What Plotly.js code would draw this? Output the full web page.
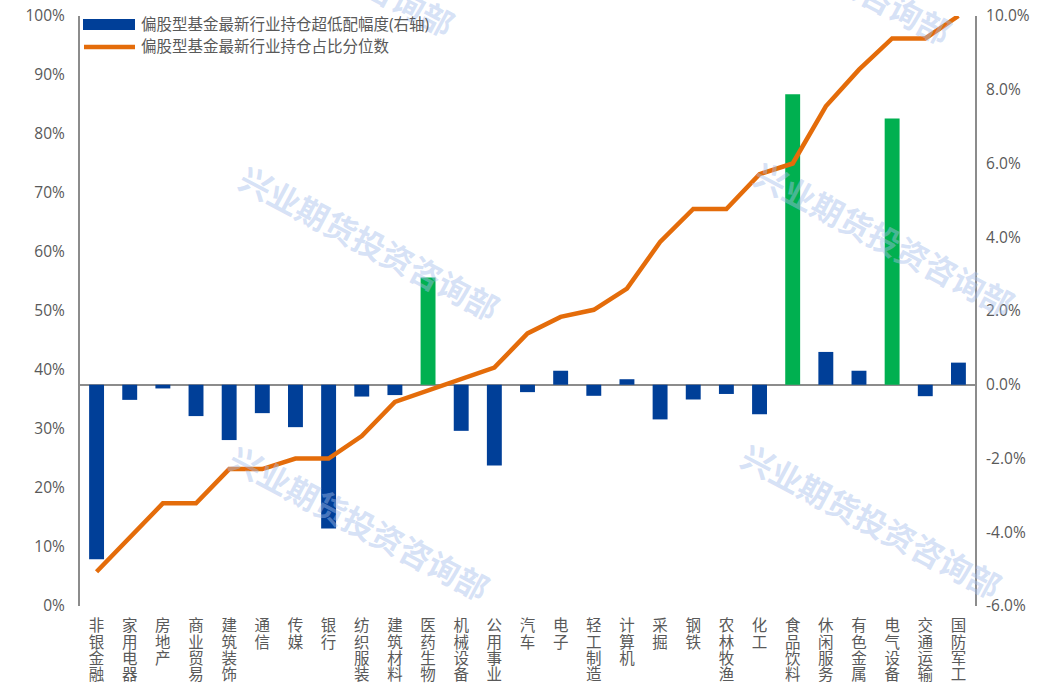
<!DOCTYPE html>
<html>
<head>
<meta charset="utf-8">
<script src="https://cdn.plot.ly/plotly-3.0.1.min.js"></script>
<style>
  html, body { margin: 0; padding: 0; background: #fff; }
  #chart { width: 1053px; height: 687px; }
</style>
</head>
<body>
<div id="chart"></div>
<script>
// industry categories, left to right
const categories = ['非银金融', '家用电器', '房地产', '商业贸易', '建筑装饰', '通信', '传媒', '银行', '纺织服装',
    '建筑材料', '医药生物', '机械设备', '公用事业', '汽车', '电子', '轻工制造', '计算机', '采掘', '钢铁',
    '农林牧渔', '化工', '食品饮料', '休闲服务', '有色金属', '电气设备', '交通运输', '国防军工'];
// over/under weight (%), right axis
const overweight = [-4.73, -0.41, -0.10, -0.85, -1.50, -0.77, -1.15, -3.90, -0.32, -0.28, 2.91, -1.25, -2.19,
    -0.20, 0.38, -0.30, 0.15, -0.94, -0.40, -0.25, -0.80, 7.88, 0.89, 0.38, 7.22, -0.31, 0.60];
// holding share percentile (%), left axis
const percentile = [5.8, 11.6, 17.4, 17.4, 23.2, 23.2, 25.0, 25.0, 28.8, 34.6, 36.6, 38.6, 40.4, 46.2, 49.0,
    50.2, 53.8, 61.7, 67.3, 67.3, 73.2, 75.0, 84.7, 90.9, 96.2, 96.2, 100];
// bars drawn in green
const highlighted = ['医药生物', '食品饮料', '电气设备'];

const leftTicks = [0, 10, 20, 30, 40, 50, 60, 70, 80, 90, 100];
const rightTicks = [-6, -4, -2, 0, 2, 4, 6, 8, 10];

const barName = '偏股型基金最新行业持仓超低配幅度(右轴)';
const lineName = '偏股型基金最新行业持仓占比分位数';

const BLUE = '#003f98';
const GREEN = '#00b050';
const ORANGE = '#e46c0a';
const GREY = '#595959';
const FONT = 'Open Sans, Noto Sans CJK SC, sans-serif';

// vertical labels: one character per line
const tickText = categories.map(c =>
    c.split('').map(ch => `<span style="font-size:15.5px">${ch}</span>`).join('<br>'));

const bars = {
    x: categories,
    y: overweight,
    type: 'bar',
    name: barName,
    yaxis: 'y',
    width: 0.45,
    marker: {color: categories.map(c => highlighted.includes(c) ? GREEN : BLUE)}
};

const line = {
    x: categories,
    y: percentile,
    type: 'scatter',
    mode: 'lines',
    name: lineName,
    yaxis: 'y2',
    line: {color: ORANGE, width: 4.5}
};

// pixel -> paper helpers for the plot area (80..975, 16..606)
const px = (x) => (x - 80) / 895;
const py = (y) => (606 - y) / 590;

// watermark
const marks = [[370, 242], [360, 522], [885, 238], [872, 520], [325, -42], [822, -34]].map(([x, y]) => ({
    text: '<b>兴业期货投资咨询部</b>',
    xref: 'paper', yref: 'paper',
    x: px(x), y: py(y),
    xanchor: 'center', yanchor: 'middle',
    showarrow: false,
    textangle: 28,
    font: {family: 'Noto Sans CJK SC', size: 32, color: 'rgba(165,190,235,0.45)'}
}));

// hand-made legend (wide swatches like the original)
const legendText = [[barName, 24], [lineName, 46]].map(([t, y]) => ({
    text: t,
    xref: 'paper', yref: 'paper',
    x: px(139), y: py(y),
    xanchor: 'left', yanchor: 'middle',
    showarrow: false,
    font: {size: 15.5, color: GREY}
}));
const legendShapes = [
    {type: 'rect', xref: 'paper', yref: 'paper', x0: px(83), x1: px(135), y0: py(30), y1: py(19),
        fillcolor: BLUE, line: {width: 0}},
    {type: 'line', xref: 'paper', yref: 'paper', x0: px(84), x1: px(135), y0: py(47), y1: py(47),
        line: {color: ORANGE, width: 4.5}}
];

const layout = {
    width: 1053,
    height: 687,
    margin: {l: 80, r: 78, t: 16, b: 81},
    paper_bgcolor: '#fff',
    plot_bgcolor: '#fff',
    font: {family: FONT, color: GREY, size: 15},
    showlegend: false,
    bargap: 0.5,
    xaxis: {
        type: 'category',
        range: [-0.5, categories.length - 0.5],
        tickvals: categories,
        ticktext: tickText,
        tickfont: {size: 12.4, color: GREY},
        ticklabelstandoff: 12,
        showline: false,
        showgrid: false,
        zeroline: false,
        ticks: '',
        fixedrange: true
    },
    yaxis: {
        side: 'right',
        range: [-6, 10],
        tickvals: rightTicks,
        ticktext: rightTicks.map(v => v.toFixed(1) + '%'),
        showline: true,
        linecolor: '#8c8c8c',
        linewidth: 2,
        showgrid: false,
        zeroline: true,
        zerolinecolor: '#8c8c8c',
        zerolinewidth: 2,
        ticks: '',
        ticklabelstandoff: 6,
        tickfont: {size: 15.5, color: GREY}
    },
    yaxis2: {
        side: 'left',
        overlaying: 'y',
        range: [0, 100],
        tickvals: leftTicks,
        ticktext: leftTicks.map(v => v + '%'),
        showline: true,
        linecolor: '#8c8c8c',
        linewidth: 2,
        showgrid: false,
        zeroline: false,
        ticks: '',
        ticklabelstandoff: 10,
        tickfont: {size: 15.5, color: GREY}
    },
    shapes: legendShapes,
    annotations: marks.concat(legendText)
};

Plotly.newPlot('chart', [bars, line], layout, {displayModeBar: false, staticPlot: true});
</script>
</body>
</html>
